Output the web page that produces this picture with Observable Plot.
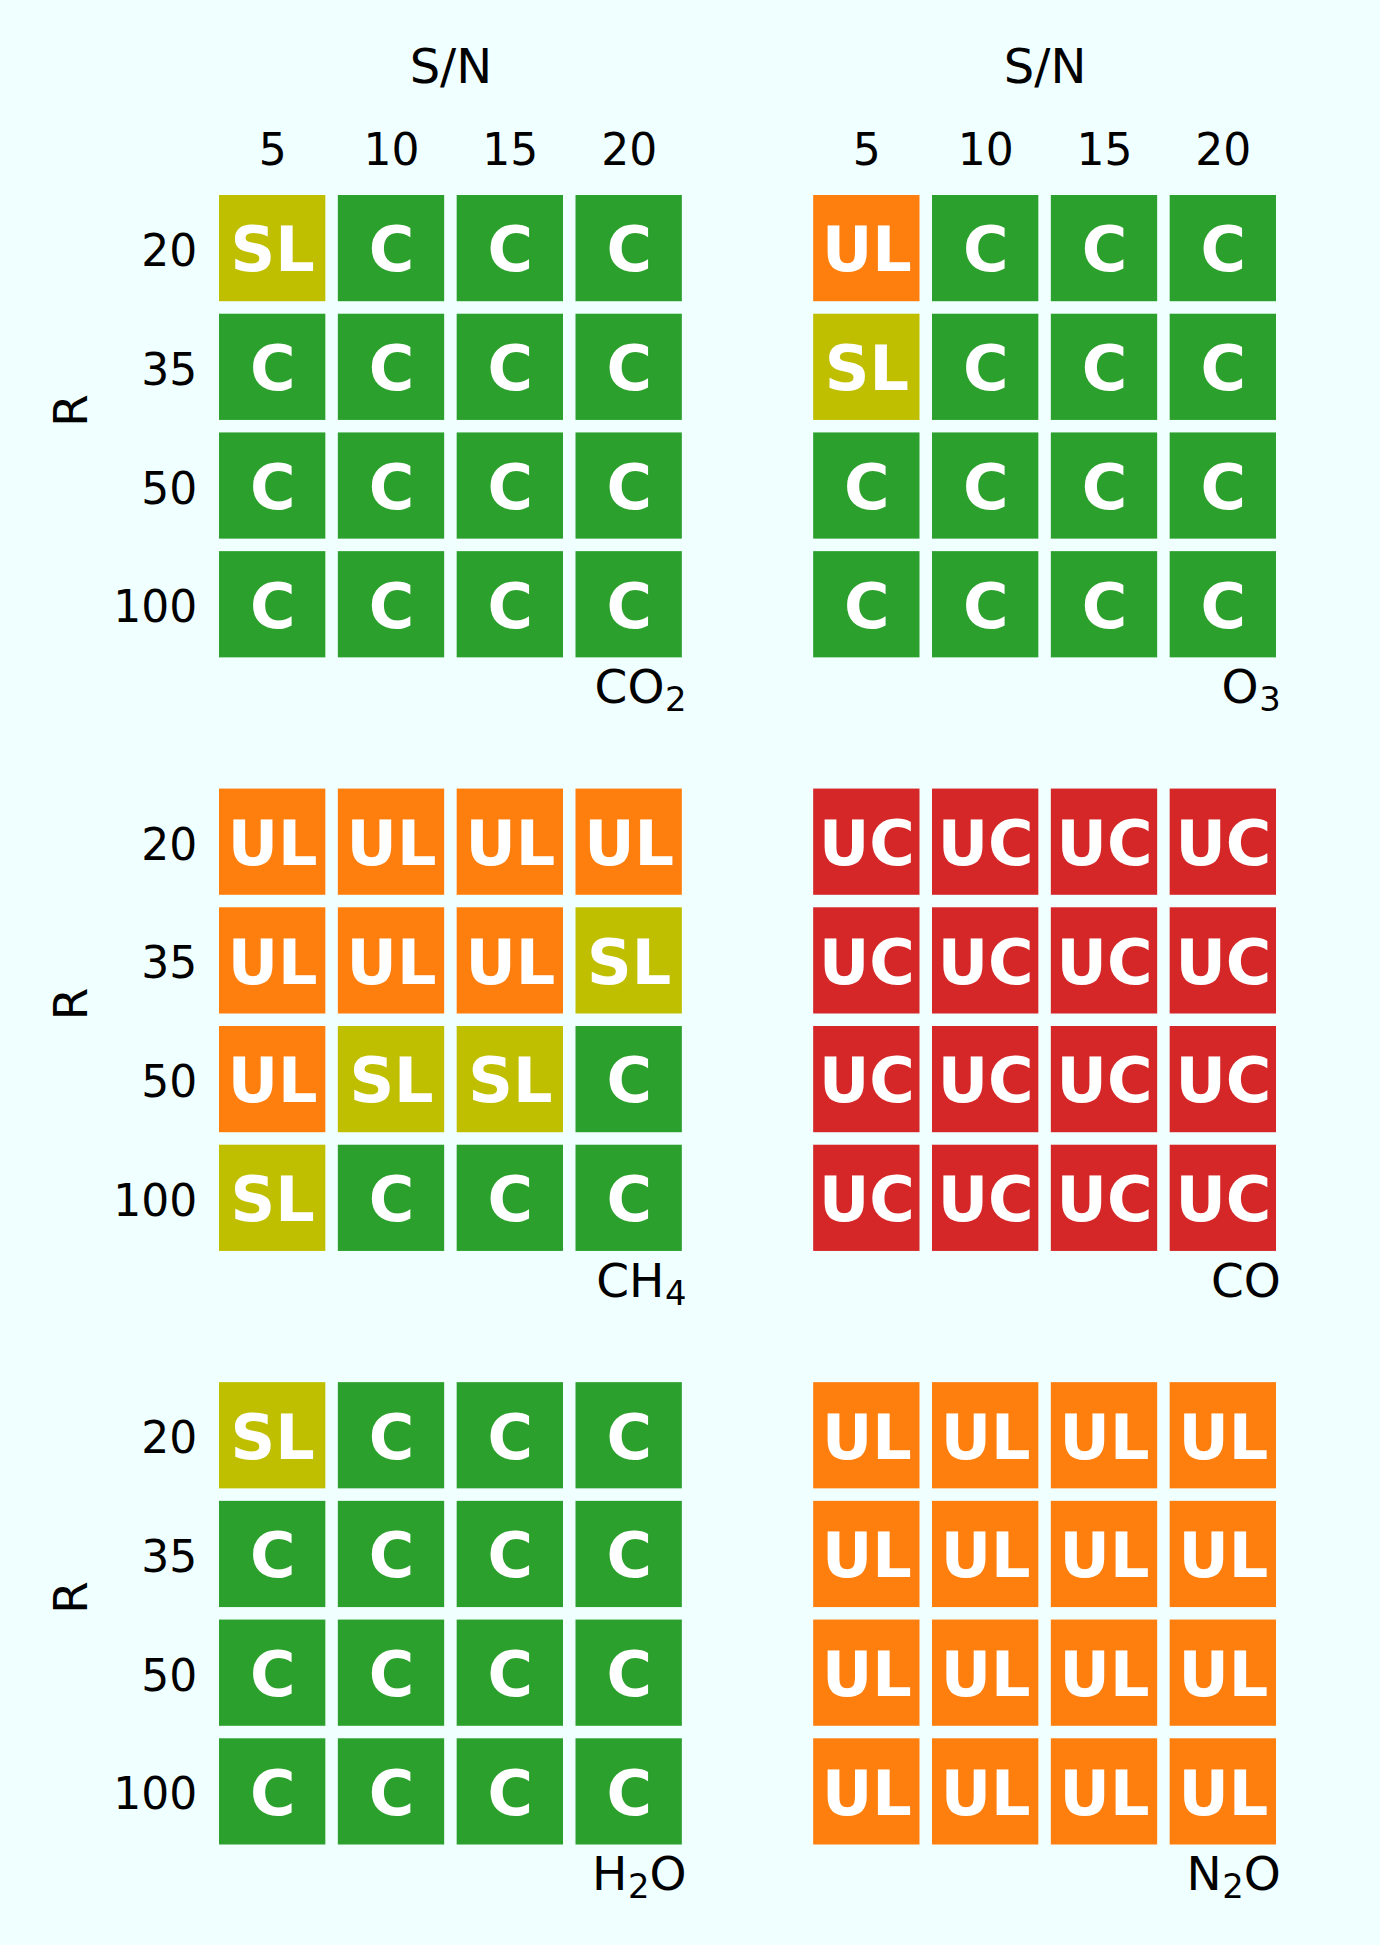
<!DOCTYPE html>
<html>
<head>
<meta charset="utf-8">
<script src="https://cdn.jsdelivr.net/npm/d3@7"></script>
<script src="https://cdn.jsdelivr.net/npm/@observablehq/plot@0.6"></script>
<style>
  html, body { margin: 0; padding: 0; background: #f0ffff; }
  #chart svg { display: block; }
</style>
</head>
<body>
<div id="chart"></div>
<script>
// Axis categories
const snValues = [5, 10, 15, 20];      // S/N (columns)
const rValues = [20, 35, 50, 100];     // R (rows)

// Panels (reading order: left-right, top-bottom)
const gases = ["CO₂", "O₃", "CH₄", "CO", "H₂O", "N₂O"];

// Classification categories and colours
const classes = ["C", "SL", "UL", "UC"];
const classColors = ["#2ca02c", "#bfbf00", "#ff7f0e", "#d62728"];

// Grids: one row per R value (20, 35, 50, 100), one entry per S/N value (5, 10, 15, 20)
const co2Grid = [
  ["SL", "C", "C", "C"],
  ["C", "C", "C", "C"],
  ["C", "C", "C", "C"],
  ["C", "C", "C", "C"]
];
const o3Grid = [
  ["UL", "C", "C", "C"],
  ["SL", "C", "C", "C"],
  ["C", "C", "C", "C"],
  ["C", "C", "C", "C"]
];
const ch4Grid = [
  ["UL", "UL", "UL", "UL"],
  ["UL", "UL", "UL", "SL"],
  ["UL", "SL", "SL", "C"],
  ["SL", "C", "C", "C"]
];
const coGrid = [
  ["UC", "UC", "UC", "UC"],
  ["UC", "UC", "UC", "UC"],
  ["UC", "UC", "UC", "UC"],
  ["UC", "UC", "UC", "UC"]
];
const h2oGrid = [
  ["SL", "C", "C", "C"],
  ["C", "C", "C", "C"],
  ["C", "C", "C", "C"],
  ["C", "C", "C", "C"]
];
const n2oGrid = [
  ["UL", "UL", "UL", "UL"],
  ["UL", "UL", "UL", "UL"],
  ["UL", "UL", "UL", "UL"],
  ["UL", "UL", "UL", "UL"]
];
const grids = [co2Grid, o3Grid, ch4Grid, coGrid, h2oGrid, n2oGrid];

// Build table
const cells = [];
gases.forEach((gas, gi) => {
  const fcol = gi % 2, frow = Math.floor(gi / 2);
  grids[gi].forEach((rowVals, ri) => {
    rowVals.forEach((cls, si) => {
      cells.push({gas, fcol, frow, r: rValues[ri], sn: snValues[si], cls});
    });
  });
});
const panels = gases.map((gas, gi) => ({gas, fcol: gi % 2, frow: Math.floor(gi / 2)}));
const topPanels = panels.filter(d => d.frow === 0);
const leftPanels = panels.filter(d => d.fcol === 0);

const chart = Plot.plot({
  width: 1380,
  height: 1945,
  marginTop: 188.75,
  marginBottom: 94.25,
  marginLeft: 212.75,
  marginRight: 97.75,
  style: {background: "#f0ffff", fontFamily: "DejaVu Sans", fontSize: "44px", color: "black"},
  fx: {domain: [0, 1], paddingInner: 0.2, paddingOuter: 0, round: false, axis: null},
  fy: {domain: [0, 1, 2], paddingInner: 0.2, paddingOuter: 0, round: false, axis: null},
  x: {type: "band", domain: snValues, padding: 0, round: false},
  y: {type: "band", domain: rValues, padding: 0, round: false},
  color: {domain: classes, range: classColors},
  marks: [
    Plot.cell(cells, {x: "sn", y: "r", fx: "fcol", fy: "frow", fill: "cls", inset: 6.25}),
    Plot.text(cells, {x: "sn", y: "r", fx: "fcol", fy: "frow", text: "cls", fill: "white",
      fontWeight: "bold", fontSize: 62, dy: 3}),
    Plot.axisX({anchor: "top", tickSize: 0, tickPadding: 24.75, fontSize: 44, label: null}),
    Plot.axisY({anchor: "left", tickSize: 0, tickPadding: 16, fontSize: 44, label: null, dy: 3.5}),
    Plot.text(topPanels, {fx: "fcol", fy: "frow", text: () => "S/N", frameAnchor: "top",
      lineAnchor: "bottom", dy: -106, fontSize: 48, fill: "black"}),
    Plot.text(leftPanels, {fx: "fcol", fy: "frow", text: () => "R", frameAnchor: "left",
      rotate: -90, lineAnchor: "bottom", dx: -126, fontSize: 47, fill: "black"}),
    Plot.text(panels, {fx: "fcol", fy: "frow", text: "gas", frameAnchor: "bottom-right",
      textAnchor: "end", lineAnchor: "bottom", dx: -2, dy: 39, fontSize: 47, fill: "black"})
  ]
});

// Render Unicode subscript digits as proper subscripts (like mathtext)
const subMap = {"₀":"0","₁":"1","₂":"2","₃":"3","₄":"4","₅":"5","₆":"6","₇":"7","₈":"8","₉":"9"};
d3.select(chart).selectAll("text")
  .filter(function() { return gases.includes(this.textContent); })
  .each(function() {
    const t = d3.select(this);
    const parts = [];
    for (const ch of this.textContent) {
      const sub = ch in subMap;
      const last = parts[parts.length - 1];
      if (last && last.sub === sub) last.s += sub ? subMap[ch] : ch;
      else parts.push({sub, s: sub ? subMap[ch] : ch});
    }
    t.text(null);
    let shifted = false;
    for (const p of parts) {
      const ts = t.append("tspan").text(p.s);
      if (p.sub) {
        ts.attr("font-size", "0.72em").attr("dy", "0.24em").attr("dx", "0.02em");
        shifted = true;
      } else if (shifted) {
        ts.attr("dy", "-0.173em");
        shifted = false;
      }
    }
  });

document.getElementById("chart").appendChild(chart);
</script>
</body>
</html>
